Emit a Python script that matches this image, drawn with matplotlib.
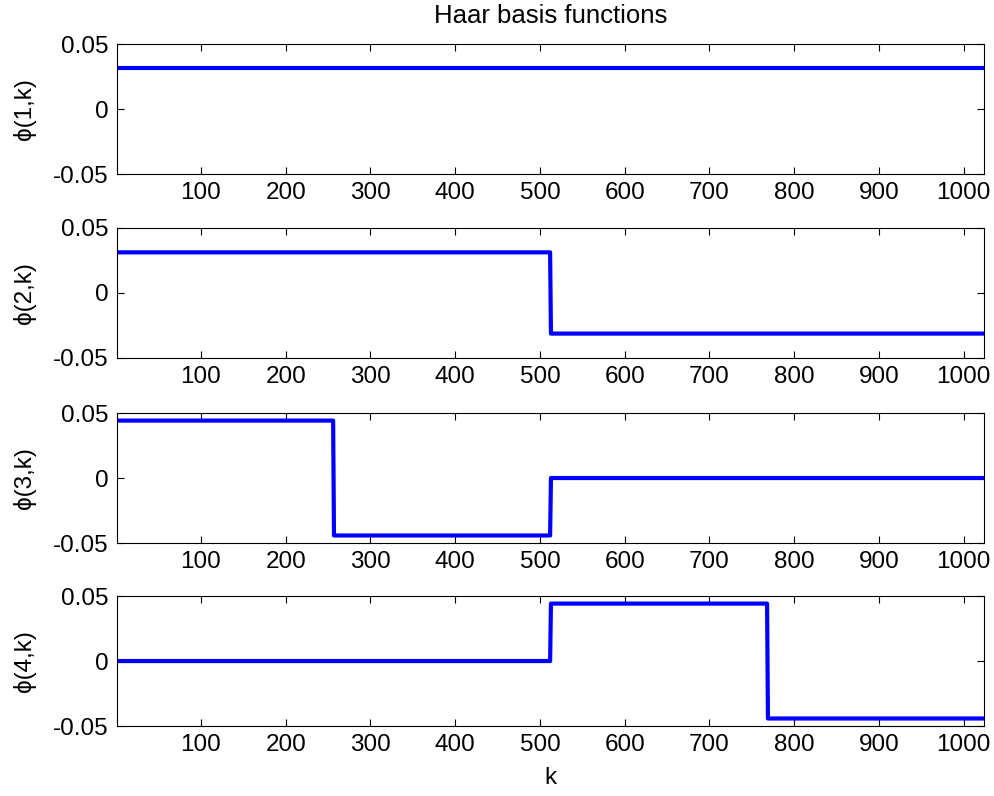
import matplotlib
matplotlib.use("Agg")
import matplotlib.pyplot as plt

plt.rcParams['font.family'] = ['Liberation Sans', 'DejaVu Sans']
plt.rcParams['font.size'] = 17.5

# Haar basis functions, N = 1024 (breakpoints and levels)
k1 = [1, 1024]
phi1 = [0.03125, 0.03125]
k2 = [1, 512, 513, 1024]
phi2 = [0.03125, 0.03125, -0.03125, -0.03125]
k3 = [1, 256, 257, 512, 513, 1024]
phi3 = [0.0442, 0.0442, -0.0442, -0.0442, 0.0, 0.0]
k4 = [1, 512, 513, 768, 769, 1024]
phi4 = [0.0, 0.0, 0.0442, 0.0442, -0.0442, -0.0442]

series = [(k1, phi1), (k2, phi2), (k3, phi3), (k4, phi4)]
ylabels = ['ϕ(1,k)', 'ϕ(2,k)', 'ϕ(3,k)', 'ϕ(4,k)']
xticks = [100, 200, 300, 400, 500, 600, 700, 800, 900, 1000]
yticks = [-0.05, 0, 0.05]
yticklabels = ['-0.05', '0', '0.05']

fig = plt.figure(figsize=(9.95, 7.96), dpi=100)
bottoms = [0.7814, 0.5503, 0.3178, 0.0879]
axes = []
for i, (k, phi) in enumerate(series):
    ax = fig.add_axes([0.1176, bottoms[i], 0.8714, 0.1633])
    ax.plot(k, phi, color=(0, 0, 1), lw=3)
    ax.set_xlim(1, 1024)
    ax.set_ylim(-0.05, 0.05)
    ax.set_xticks(xticks)
    ax.set_yticks(yticks)
    ax.set_yticklabels(yticklabels)
    ax.tick_params(direction='in', length=5, width=0.8, top=True, right=True,
                   pad=6)
    ax.set_ylabel(ylabels[i], labelpad=12)
    for s in ax.spines.values():
        s.set_linewidth(0.8)
    axes.append(ax)

axes[0].set_title('Haar basis functions', fontsize=18.5, pad=15)
axes[-1].set_xlabel('k', labelpad=8)

fig.savefig('out.png', dpi=100)
